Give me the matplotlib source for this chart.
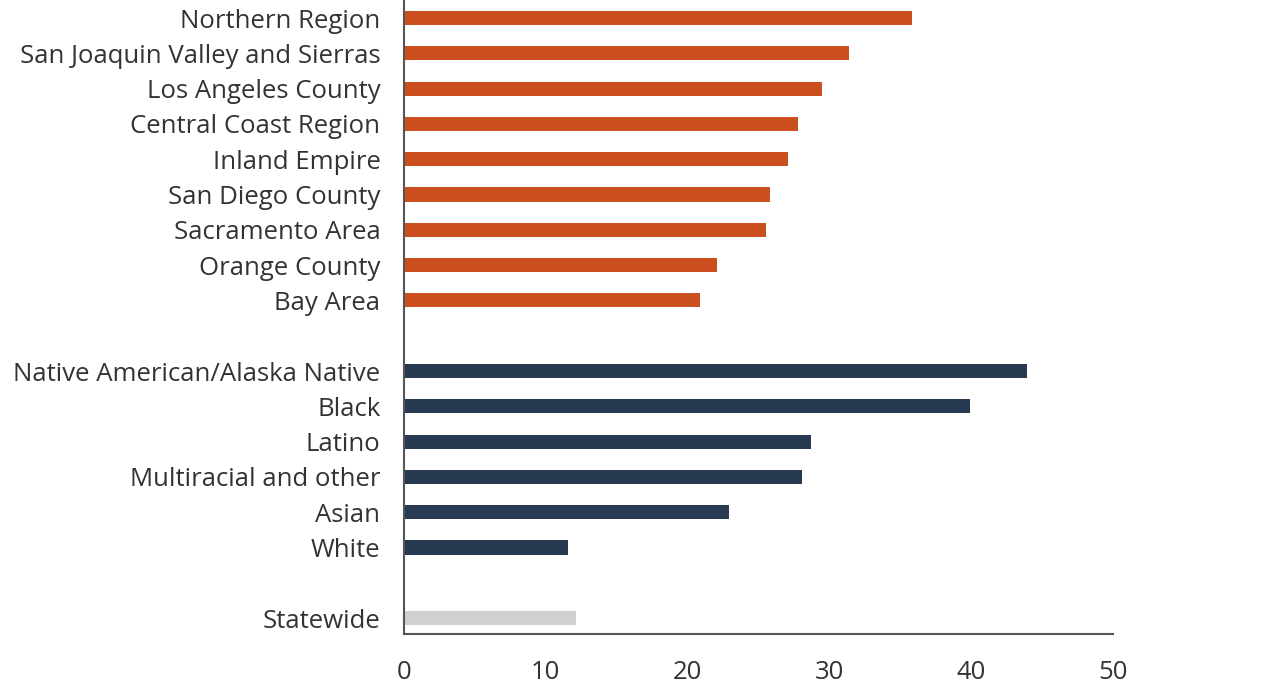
import matplotlib
matplotlib.use("Agg")
import matplotlib.pyplot as plt

plt.rcParams['font.family'] = ['Open Sans', 'DejaVu Sans']

regions = ["Northern Region", "San Joaquin Valley and Sierras", "Los Angeles County",
           "Central Coast Region", "Inland Empire", "San Diego County",
           "Sacramento Area", "Orange County", "Bay Area"]
region_vals = [35.8, 31.4, 29.5, 27.8, 27.1, 25.8, 25.5, 22.1, 20.9]

groups = ["Native American/Alaska Native", "Black", "Latino",
          "Multiracial and other", "Asian", "White"]
group_vals = [43.9, 39.9, 28.7, 28.1, 22.9, 11.6]

statewide_label = "Statewide"
statewide_val = 12.1

orange = "#cc4f1f"
navy = "#283a52"
grey = "#d0d0d0"
text_c = "#333333"

labels, vals, colors, pos = [], [], [], []
row = 0
for lab, v in zip(regions, region_vals):
    labels.append(lab); vals.append(v); colors.append(orange); pos.append(row); row += 1
row += 1
for lab, v in zip(groups, group_vals):
    labels.append(lab); vals.append(v); colors.append(navy); pos.append(row); row += 1
row += 1
labels.append(statewide_label); vals.append(statewide_val); colors.append(grey); pos.append(row)

fig = plt.figure(figsize=(12.8, 6.88), dpi=100)
ax = fig.add_axes([404/1280, 1 - 634/688, (1113 - 404)/1280, 634/688])
ax.barh(pos, vals, height=0.4, color=colors)
ax.set_ylim(17.45, -0.51)
ax.set_xlim(0, 50)
ax.set_xticks([0, 10, 20, 30, 40, 50])
ax.set_yticks(pos)
ax.set_yticklabels(labels)
ax.tick_params(axis='both', length=0, labelsize=18.5, colors=text_c)
ax.tick_params(axis='y', pad=17)
ax.tick_params(axis='x', pad=19)
for s in ['top', 'right']:
    ax.spines[s].set_visible(False)
for s in ['left', 'bottom']:
    ax.spines[s].set_color('#555555')
    ax.spines[s].set_linewidth(1.5)

fig.savefig("out.png", dpi=100)
